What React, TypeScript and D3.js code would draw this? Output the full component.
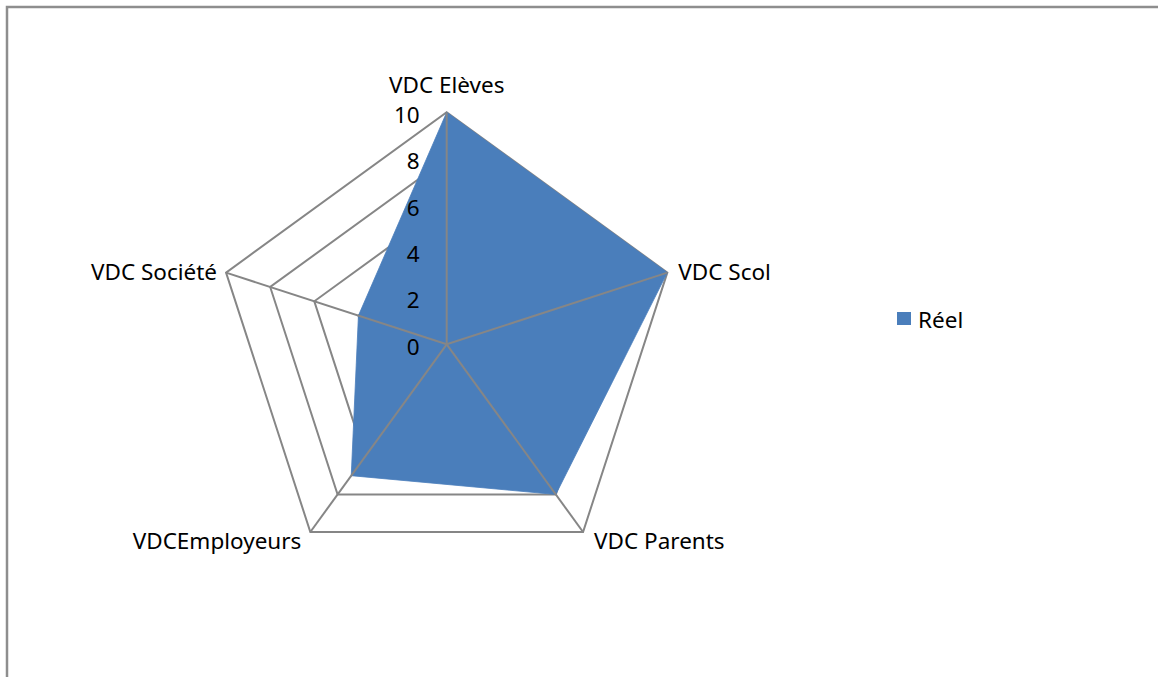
import { useEffect, useRef } from 'react';
import * as d3 from 'd3';

const categories = ['VDC Elèves', 'VDC Scol', 'VDC Parents', 'VDCEmployeurs', 'VDC Société'];
const values = [10, 10, 8, 7, 4];
const tickValues = [0, 2, 4, 6, 8, 10];
const seriesName = 'Réel';

export default function App() {
  const svgRef = useRef<SVGSVGElement>(null);

  useEffect(() => {
    if (!svgRef.current) return;
    const svg = d3.select(svgRef.current);
    svg.selectAll('*').remove();

    const width = 1158;
    const height = 677;
    const cx = 446.7;
    const cy = 344.3;
    const radius = 232;
    const font = "'Noto Sans', 'Open Sans', sans-serif";
    const fontSize = 22.5;
    const gridColor = '#868686';
    const fillColor = '#4A7EBB';

    svg.attr('width', width).attr('height', height);

    // outer chart frame (cut off at the right / bottom like the reference)
    svg.append('rect')
      .attr('x', 7).attr('y', 7)
      .attr('width', width + 20).attr('height', height + 20)
      .attr('fill', 'white')
      .attr('stroke', '#8e8e8e')
      .attr('stroke-width', 2.5);

    const r = d3.scaleLinear().domain([0, 10]).range([0, radius]);
    const angle = d3.scaleLinear().domain([0, categories.length]).range([0, 2 * Math.PI]);

    const g = svg.append('g').attr('transform', `translate(${cx},${cy})`);

    const radial = d3.lineRadial<number>()
      .angle((_, i) => angle(i))
      .radius(d => r(d))
      .curve(d3.curveLinearClosed);

    // rings
    tickValues.filter(t => t > 0).forEach(t => {
      g.append('path')
        .attr('d', radial(categories.map(() => t)) as string)
        .attr('fill', 'none')
        .attr('stroke', gridColor)
        .attr('stroke-width', 2);
    });

    // series area
    g.append('path')
      .attr('d', radial(values) as string)
      .attr('fill', fillColor)
      .attr('stroke', fillColor)
      .attr('stroke-width', 0.8);

    // spokes over the fill
    categories.forEach((_, i) => {
      const a = angle(i);
      g.append('line')
        .attr('x1', 0).attr('y1', 0)
        .attr('x2', r(10) * Math.sin(a))
        .attr('y2', -r(10) * Math.cos(a))
        .attr('stroke', gridColor)
        .attr('stroke-width', 2);
    });

    // tick labels along the first axis
    tickValues.forEach(t => {
      g.append('text')
        .attr('x', -27)
        .attr('y', -r(t) + 2)
        .attr('text-anchor', 'end')
        .attr('dominant-baseline', 'central')
        .attr('font-family', font)
        .attr('font-size', fontSize)
        .attr('fill', '#000')
        .text(t);
    });

    // category labels
    categories.forEach((c, i) => {
      const a = angle(i);
      const sx = Math.sin(a);
      const sy = -Math.cos(a);
      const px = r(10) * sx;
      const py = r(10) * sy;
      let anchor = 'middle';
      let dx = 0;
      let dy = 0;
      if (Math.abs(sx) < 0.1) {
        dy = -28;
      } else {
        anchor = sx > 0 ? 'start' : 'end';
        dx = sx > 0 ? 11 : -9;
        dy = sy > 0.5 ? 9 : -1;
      }
      g.append('text')
        .attr('x', px + dx)
        .attr('y', py + dy)
        .attr('text-anchor', anchor)
        .attr('dominant-baseline', 'central')
        .attr('font-family', font)
        .attr('font-size', fontSize)
        .attr('fill', '#000')
        .text(c);
    });

    // legend
    const legend = svg.append('g').attr('transform', 'translate(897,312)');
    legend.append('rect')
      .attr('width', 14).attr('height', 13)
      .attr('fill', fillColor);
    legend.append('text')
      .attr('x', 21)
      .attr('y', 7)
      .attr('dominant-baseline', 'central')
      .attr('font-family', font)
      .attr('font-size', fontSize)
      .attr('fill', '#000')
      .text(seriesName);
  }, []);

  return (
    <svg ref={svgRef} style={{ position: 'absolute', left: 0, top: 0, display: 'block' }} />
  );
}
